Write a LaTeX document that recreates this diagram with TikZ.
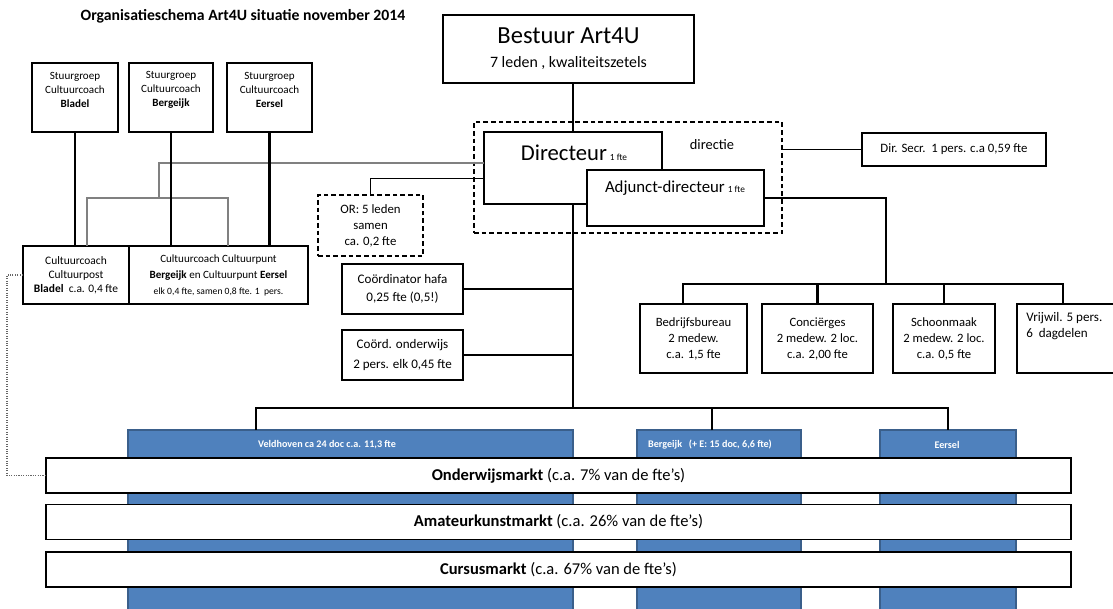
\documentclass[tikz,border=0pt]{standalone}
\usepackage{fontspec}
\setmainfont{Carlito}
\newcommand{\fsz}[2]{\fontsize{#1}{#2}\selectfont}
\definecolor{artblue}{HTML}{4F81BD}
\definecolor{artblueline}{HTML}{3A5F8B}
\tikzstyle{box}=[rectangle, draw=black, fill=white, line width=0.9pt, inner sep=0pt, outer sep=0pt, align=center]
\tikzstyle{dashbox}=[box, dash pattern=on 3.5pt off 2.25pt]
\tikzstyle{bluebox}=[rectangle, draw=artblueline, fill=artblue, line width=1.5pt, inner sep=0pt, outer sep=0pt]
\tikzstyle{band}=[box, line width=1pt, font=\fsz{12.4}{14}]
\tikzstyle{lbl}=[inner sep=0pt, align=center]
\tikzstyle{bluelbl}=[lbl, text=white, font=\fsz{7.6}{9}\bfseries]
\tikzstyle{conn}=[line width=1.7pt]
\tikzstyle{thinconn}=[line width=1pt]
\tikzstyle{grayconn}=[line width=0.8pt, black!50]
\tikzstyle{dotconn}=[line width=0.8pt, densely dotted, black!60]

\begin{document}
\begin{tikzpicture}[x=0.75pt, y=-0.75pt]
	\useasboundingbox (0,0) rectangle (1113,609);
	\node[lbl, font=\fsz{11.8}{14}\bfseries] (title) at (243,16) {Organisatieschema Art4U situatie november 2014};

	\node[box, font=\fsz{11.9}{18}, minimum width=188.25pt, minimum height=51pt] (bestuur) at (568.5,49) {{\fsz{18.4}{22}Bestuur Art4U}\\7 leden , kwaliteitszetels};

	\node[dashbox, fill=none, minimum width=231pt, minimum height=83.25pt] (directie) at (628,177.5) {};
	\node[lbl, font=\fsz{10.8}{12}] (directielbl) at (712,145) {directie};
	\node[box, minimum width=133.5pt, minimum height=54pt] (dir) at (573,168) {};
	\node[lbl] (dirlbl) at (574,153) {{\fsz{17}{20}Directeur} {\fsz{7}{8}1 fte}};
	\node[box, minimum width=132.75pt, minimum height=42pt] (adj) at (675.5,198) {};
	\node[lbl] (adjlbl) at (675,188) {{\fsz{12.6}{15}Adjunct-directeur} {\fsz{7}{8}1 fte}};
	\node[box, font=\fsz{9.6}{11}, minimum width=138pt, minimum height=24.75pt] (dirsec) at (954,149.5) {Dir. Secr.\ \ 1 pers. c.a 0,59 fte};

	\node[dashbox, font=\fsz{9.6}{12}, minimum width=78.75pt, minimum height=45.75pt] (or) at (370.5,225.5) {OR: 5 leden\\samen\\ca. 0,2 fte};

	\node[box, minimum width=64.5pt, minimum height=51.75pt] (sgbladel) at (75,97.5) {};
	\node[lbl, font=\fsz{8.3}{10.5}] (sgbladellbl) at (75,90) {Stuurgroep\\Cultuurcoach\\\textbf{Bladel}};
	\node[box, minimum width=63pt, minimum height=51.75pt] (sgbergeijk) at (171,97.5) {};
	\node[lbl, font=\fsz{8.3}{10.5}] (sgbergeijklbl) at (171,90) {Stuurgroep\\Cultuurcoach\\\textbf{Bergeijk}};
	\node[box, minimum width=63.75pt, minimum height=51.75pt] (sgeersel) at (269.5,97.5) {};
	\node[lbl, font=\fsz{8.3}{10.5}] (sgeersellbl) at (269.5,90) {Stuurgroep\\Cultuurcoach\\\textbf{Eersel}};

	\node[box, font=\fsz{8.6}{10.5}, minimum width=79.5pt, minimum height=43.5pt] (ccpost) at (76,275) {Cultuurcoach\\Cultuurpost\\\textbf{Bladel}\ \ c.a. 0,4 fte};
	\node[box, font=\fsz{8.3}{12}, minimum width=134.25pt, minimum height=43.5pt] (ccpunt) at (218.5,275) {Cultuurcoach Cultuurpunt\\\textbf{Bergeijk} en Cultuurpunt \textbf{Eersel}\\{\fsz{7.2}{9}elk 0,4 fte, samen 0,8 fte. 1\ \ pers.}};

	\node[box, font=\fsz{9.8}{14}, minimum width=90.75pt, minimum height=37.5pt] (hafa) at (402.5,289) {Coördinator hafa\\0,25 fte (0,5!)};
	\node[box, font=\fsz{9.8}{14.5}, minimum width=90.75pt, minimum height=37.5pt] (ondw) at (402.5,355) {Coörd. onderwijs\\2 pers. elk 0,45 fte};

	\node[box, font=\fsz{9.5}{12}, minimum width=80.25pt, minimum height=51.75pt] (bedrijf) at (693.5,338.5) {Bedrijfsbureau\\2 medew.\\c.a. 1,5 fte};
	\node[box, font=\fsz{9.5}{12}, minimum width=83.25pt, minimum height=51.75pt] (conc) at (817.5,338.5) {Conciërges\\2 medew. 2 loc.\\c.a. 2,00 fte};
	\node[box, font=\fsz{9.5}{12}, minimum width=76.5pt, minimum height=51.75pt] (schoon) at (944,338.5) {Schoonmaak\\2 medew. 2 loc.\\c.a. 0,5 fte};
	\node[box, minimum width=73.5pt, minimum height=51.75pt] (vrij) at (1066,338.5) {};
	\node[lbl, font=\fsz{9.8}{12}, align=left, anchor=north west] (vrijlbl) at (1026,312) {Vrijwil. 5 pers.\\6\ \ dagdelen};

	\node[bluebox, minimum width=333.75pt, minimum height=138.75pt] (veld) at (350.5,522.5) {};
	\node[bluelbl] (veldlbl) at (327,445) {Veldhoven ca 24 doc c.a. 11,3 fte};
	\node[bluebox, minimum width=123pt, minimum height=138.75pt] (berg) at (719,522.5) {};
	\node[bluelbl] (berglbl) at (710,445) {Bergeijk\ \ \ (+ E: 15 doc, 6,6 fte)};
	\node[bluebox, minimum width=102pt, minimum height=138.75pt] (eers) at (948,522.5) {};
	\node[bluelbl] (eerslbl) at (947,445) {Eersel};

	\node[band, minimum width=768.75pt, minimum height=26.25pt] (onderw) at (558.5,475.5) {\textbf{Onderwijsmarkt} (c.a. 7\% van de fte’s)};
	\node[band, minimum width=768.75pt, minimum height=26.25pt] (amateur) at (558.5,522) {\textbf{Amateurkunstmarkt} (c.a. 26\% van de fte’s)};
	\node[band, minimum width=768.75pt, minimum height=26.25pt] (cursus) at (558.5,569.5) {\textbf{Cursusmarkt} (c.a. 67\% van de fte’s)};

	\coordinate (spine) at (573,408);
	\coordinate (staff) at (886,284);
	\draw[conn] (bestuur.south -| dir.north) -- (dir.north);
	\draw[conn] (dir.south) -- (spine);
	\draw[conn] (hafa.east) -- (hafa.east -| spine);
	\draw[conn] (ondw.east) -- (ondw.east -| spine);
	\draw[thinconn] (veld.north -| 256,0) |- (spine) -| (eers.north);
	\draw[thinconn] (berg.north -| 712,0) -- (712,408);
	\draw[conn] (adj.east) -| (staff);
	\draw[conn] (bedrijf.north -| 683,0) |- (staff) -| (vrij.north -| 1063,0);
	\draw[conn] (conc.north) -- (conc.north |- staff);
	\draw[conn] (schoon.north) -- (schoon.north |- staff);
	\draw[thinconn] (directie.east |- dirsec.west) -- (dirsec.west);
	\draw[thinconn] (or.north) |- ([yshift=-7.9pt]dir.west);
	\draw[grayconn] ([yshift=3.75pt]dir.west) -| (159,198);
	\draw[grayconn] (ccpost.north -| 87,0) -- (87,198) -- (228,198) -- (ccpunt.north -| 228,0);
	\draw[conn] (sgbladel.south) -- (sgbladel.south |- ccpost.north);
	\draw[conn] (sgbergeijk.south) -- (sgbergeijk.south |- ccpunt.north);
	\draw[conn] (sgeersel.south) -- (sgeersel.south |- ccpunt.north);
	\draw[dotconn] (ccpost.west) -- (ccpost.west -| 7,0) |- (onderw.west);
\end{tikzpicture}
\end{document}
